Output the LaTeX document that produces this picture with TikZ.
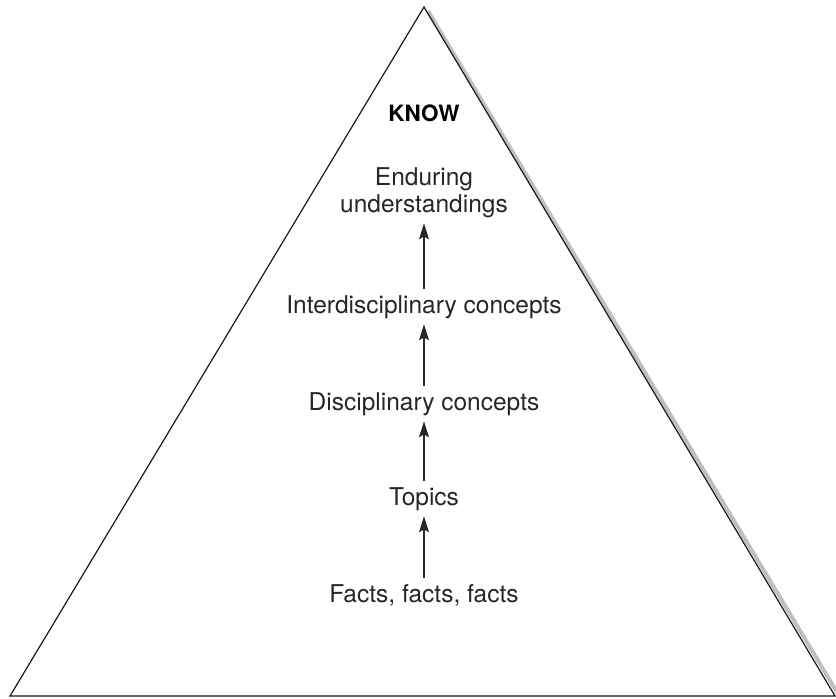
\documentclass[tikz,border=0pt]{standalone}
\usepackage{fontspec}
\setmainfont{TeX Gyre Heros}
\usepackage{xcolor}
\usetikzlibrary{positioning,arrows.meta}

\tikzset{
  label/.style={font=\fontsize{24.5}{27}\selectfont, text=black!85, inner sep=6pt, outer sep=0pt},
  uparrow/.style={-{Stealth[length=16pt,width=10pt,inset=3pt]}, line width=1.1pt, black!85}
}

\begin{document}
\begin{tikzpicture}[x=1pt,y=-1pt]

\useasboundingbox (0,0) rectangle (836,699);

% Corners of the pyramid
\coordinate (apex) at (424,7);
\coordinate (bl) at (10,696);
\coordinate (br) at (835,696);

% Gray shadow along the right side
\draw[black!25, line width=4pt] (428,11) -- (838,694);

% Draw the pyramid
\draw[line width=1.2pt, black!90, line join=miter] (bl) -- (apex) -- (br) -- cycle;

% Heading
\node[font=\fontsize{22.5}{26}\selectfont\bfseries, inner sep=0pt, anchor=base] (know) at (424,121) {KNOW};

% The levels, bottom to top
\node[label, anchor=base] (facts) at (424,602) {Facts, facts, facts};
\node[label, anchor=base] (topics) at (424,505) {Topics};
\node[label, anchor=base] (disc) at (424,410) {Disciplinary concepts};
\node[label, anchor=base] (inter) at (424,313) {Interdisciplinary concepts};
\node[label, align=center, anchor=base] (endur) at (424,212) {Enduring\\understandings};

% Arrows between the levels
\draw[uparrow] (facts) -- (topics);
\draw[uparrow] (topics) -- (disc);
\draw[uparrow] (disc) -- (inter);
\draw[uparrow] (inter) -- (endur);

\end{tikzpicture}
\end{document}
